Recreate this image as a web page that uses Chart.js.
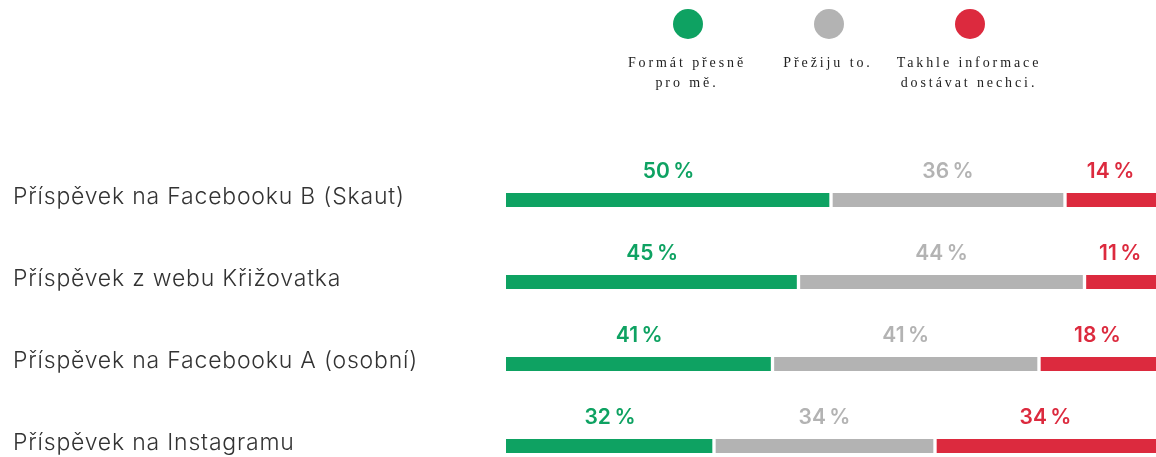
<!DOCTYPE html>
<html>
<head>
<meta charset="utf-8">
<script src="https://cdn.jsdelivr.net/npm/chart.js@4"></script>
<style>
  html, body { margin: 0; padding: 0; background: #fff; }
  #wrap { width: 1156px; height: 457px; }
</style>
</head>
<body>
<div id="wrap"><canvas id="chart" width="1156" height="457"></canvas></div>
<script>
const categories = [
  'Příspěvek na Facebooku B (Skaut)',
  'Příspěvek z webu Křižovatka',
  'Příspěvek na Facebooku A (osobní)',
  'Příspěvek na Instagramu'
];
const seriesNames = ['Formát přesně pro mě.', 'Přežiju to.', 'Takhle informace dostávat nechci.'];
const legendLines = [['Formát přesně', 'pro mě.'], ['Přežiju to.'], ['Takhle informace', 'dostávat nechci.']];
const fitsMe = [50, 45, 41, 32];
const survive = [36, 44, 41, 34];
const dontWant = [14, 11, 18, 34];
const colors = ['#0ea262', '#b3b3b3', '#dc2a3e'];

// labels on the left, percentages above segments, legend on top
const decorations = {
  id: 'decorations',
  afterDatasetsDraw(chart) {
    const ctx = chart.ctx;
    const yScale = chart.scales.y;
    ctx.save();

    // category names
    ctx.fillStyle = '#333';
    ctx.font = '300 23px Inter';
    ctx.letterSpacing = '0.8px';
    ctx.textAlign = 'left';
    ctx.textBaseline = 'middle';
    categories.forEach((c, i) => {
      ctx.fillText(c, 13, yScale.getPixelForValue(i) - 3);
    });

    // percentages
    ctx.font = '600 21px Inter';
    ctx.letterSpacing = '0px';
    ctx.textAlign = 'center';
    ctx.textBaseline = 'middle';
    chart.data.datasets.forEach((ds, di) => {
      const meta = chart.getDatasetMeta(di);
      meta.data.forEach((bar, i) => {
        const left = Math.min(bar.x, bar.base);
        const right = Math.max(bar.x, bar.base);
        ctx.fillStyle = ds.backgroundColor;
        ctx.fillText(ds.data[i] + '\u2009%', (left + right) / 2, bar.y - 28);
      });
    });

    // legend
    const legendX = [688, 829, 970];
    ctx.font = '14px "Liberation Serif"';
    ctx.letterSpacing = '2.9px';
    chart.data.datasets.forEach((ds, di) => {
      ctx.fillStyle = ds.backgroundColor;
      ctx.beginPath();
      ctx.arc(legendX[di], 24, 15, 0, Math.PI * 2);
      ctx.fill();
      ctx.fillStyle = '#222';
      legendLines[di].forEach((line, li) => {
        ctx.fillText(line, legendX[di] - 1, 63 + li * 20);
      });
    });
    ctx.restore();
  }
};

const borders = [
  { left: 0, right: 2, top: 0, bottom: 0 },
  { left: 2, right: 2, top: 0, bottom: 0 },
  { left: 2, right: 0, top: 0, bottom: 0 }
];

new Chart(document.getElementById('chart'), {
  type: 'bar',
  data: {
    labels: categories,
    datasets: [fitsMe, survive, dontWant].map((d, i) => ({
      label: seriesNames[i],
      data: d,
      backgroundColor: colors[i],
      borderColor: '#ffffff',
      borderWidth: borders[i],
      borderSkipped: false,
      barThickness: 14,
      clip: false
    }))
  },
  options: {
    indexAxis: 'y',
    responsive: false,
    animation: false,
    layout: { padding: { left: 506, right: 0, top: 200, bottom: 11 } },
    scales: {
      x: { stacked: true, min: 0, max: 100, display: false },
      y: { stacked: true, display: false, offset: false }
    },
    plugins: {
      legend: { display: false },
      tooltip: { enabled: false }
    }
  },
  plugins: [decorations]
});
</script>
</body>
</html>
